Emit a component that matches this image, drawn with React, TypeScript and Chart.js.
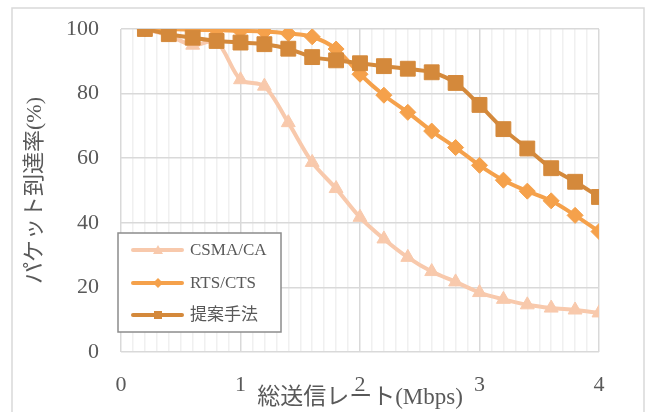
import React, { useEffect, useRef } from "react";
import { Chart, registerables } from "chart.js";

Chart.register(...registerables);

const xValues = [0.2, 0.4, 0.6, 0.8, 1.0, 1.2, 1.4, 1.6, 1.8, 2.0, 2.2, 2.4, 2.6, 2.8, 3.0, 3.2, 3.4, 3.6, 3.8, 4.0];
const csmaCa = [100, 98, 95, 96, 84.3, 82.3, 71, 58.7, 50.6, 41.7, 35, 29.3, 24.9, 21.7, 18.4, 16.3, 14.6, 13.6, 13, 12.1];
const rtsCts = [100, 100, 99.8, 99.6, 99.4, 99.2, 98.6, 97.6, 93.8, 86, 79.5, 74.2, 68.4, 63.3, 57.8, 53.2, 49.8, 46.8, 42.3, 37.3];
const proposed = [100, 98.4, 97.3, 96.3, 95.8, 95.3, 93.9, 91.3, 90.3, 89.4, 88.5, 87.7, 86.6, 83.3, 76.5, 69, 63, 56.9, 52.7, 48];

const seriesNames = ["CSMA/CA", "RTS/CTS", "提案手法"];
const seriesColors = ["#F8C9AC", "#F5A14B", "#D4893B"];
const seriesMarkers = ["triangle", "rectRot", "rect"];
const xTitle = "総送信レート(Mbps)";
const yTitle = "パケット到達率(%)";

const SERIF = "'Liberation Serif', 'Noto Sans CJK JP', serif";

const frame = {
  id: "frame",
  beforeDraw(chart: any) {
    const ctx = chart.ctx;
    ctx.save();
    ctx.fillStyle = "#ffffff";
    ctx.fillRect(0, 0, chart.width, chart.height);
    ctx.strokeStyle = "#D9D9D9";
    ctx.lineWidth = 1.5;
    ctx.strokeRect(12, 8, 632, 420);
    ctx.restore();
  },
};

const customLegend = {
  id: "customLegend",
  afterDraw(chart: any) {
    const ctx = chart.ctx;
    ctx.save();
    const bx = 118, by = 233, bw = 163, bh = 99;
    ctx.fillStyle = "#ffffff";
    ctx.fillRect(bx, by, bw, bh);
    ctx.strokeStyle = "#8C8C8C";
    ctx.lineWidth = 1.5;
    ctx.strokeRect(bx, by, bw, bh);
    const rows = [250, 283, 315];
    seriesNames.forEach((name, i) => {
      const y = rows[i];
      ctx.strokeStyle = seriesColors[i];
      ctx.lineWidth = 4;
      ctx.lineCap = "round";
      ctx.beginPath();
      ctx.moveTo(133, y);
      ctx.lineTo(182, y);
      ctx.stroke();
      ctx.fillStyle = seriesColors[i];
      ctx.beginPath();
      if (seriesMarkers[i] === "triangle") {
        ctx.moveTo(158, y - 5);
        ctx.lineTo(163, y + 4);
        ctx.lineTo(153, y + 4);
      } else if (seriesMarkers[i] === "rectRot") {
        ctx.moveTo(158, y - 5);
        ctx.lineTo(163, y);
        ctx.lineTo(158, y + 5);
        ctx.lineTo(153, y);
      } else {
        ctx.rect(154, y - 4, 8, 8);
      }
      ctx.closePath();
      ctx.fill();
      ctx.fillStyle = "#595959";
      ctx.font = `17px ${SERIF}`;
      ctx.textAlign = "left";
      ctx.textBaseline = "middle";
      ctx.fillText(name, 190, y + 1);
    });
    ctx.restore();
  },
};

const isInt = (v: number) => Math.abs(v - Math.round(v)) < 1e-6;

export default function App() {
  const ref = useRef<HTMLCanvasElement | null>(null);
  useEffect(() => {
    document.body.style.margin = "0";
    const mk = (vals: number[]) => vals.map((y, i) => ({ x: xValues[i], y }));
    const radii = [8, 8, 10.5];
    const datasets = [csmaCa, rtsCts, proposed].map((vals, i) => ({
      label: seriesNames[i],
      data: mk(vals),
      borderColor: seriesColors[i],
      backgroundColor: seriesColors[i],
      borderWidth: 4,
      pointStyle: seriesMarkers[i] as any,
      pointRadius: radii[i],
      pointBorderWidth: 1,
      pointBorderColor: seriesColors[i],
      tension: 0.3,
      order: 3 - i,
    }));
    const chart = new Chart(ref.current as HTMLCanvasElement, {
      type: "line",
      data: { datasets },
      plugins: [frame, customLegend],
      options: {
        animation: false,
        responsive: false,
        layout: { padding: { top: 29, right: 50, bottom: 0, left: 0 } },
        plugins: { legend: { display: false }, tooltip: { enabled: false } },
        scales: {
          x: {
            type: "linear",
            min: 0,
            max: 4,
            ticks: {
              stepSize: 0.1,
              autoSkip: false,
              maxRotation: 0,
              padding: 20,
              color: "#595959",
              font: { family: SERIF, size: 22 },
              callback: (v: any) => (isInt(Number(v)) ? String(Math.round(Number(v))) : ""),
            },
            grid: {
              drawTicks: false,
              lineWidth: 1.5,
              color: (c: any) => (isInt(c.tick.value) ? "#D9D9D9" : "#F0F0F0"),
            },
            border: { display: false },
            title: {
              display: true,
              text: xTitle,
              color: "#595959",
              font: { family: SERIF, size: 23 },
              padding: { top: 0, bottom: 0 },
            },
            afterFit: (s: any) => {
              s.height = 60;
              s.paddingLeft = 0;
              s.paddingRight = 0;
            },
          },
          y: {
            min: 0,
            max: 100,
            ticks: {
              stepSize: 20,
              padding: 22,
              color: "#595959",
              font: { family: SERIF, size: 22 },
            },
            grid: { drawTicks: false, color: "#D9D9D9", lineWidth: 1.5 },
            border: { display: false },
            title: {
              display: true,
              text: yTitle,
              color: "#595959",
              font: { family: SERIF, size: 22 },
              padding: { top: 22, bottom: 0 },
            },
            afterFit: (s: any) => {
              s.width = 121;
              s.paddingTop = 0;
              s.paddingBottom = 0;
            },
          },
        },
      },
    });
    return () => chart.destroy();
  }, []);
  return (
    <div style={{ position: "absolute", left: 0, top: 0, width: 649, height: 412 }}>
      <canvas ref={ref} width={649} height={412} style={{ width: 649, height: 412 }} />
    </div>
  );
}
